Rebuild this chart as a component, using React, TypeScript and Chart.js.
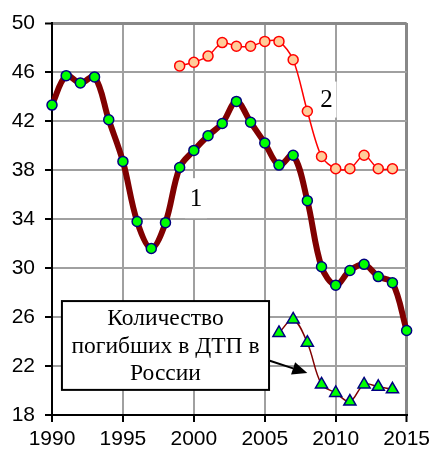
import { useEffect, useRef } from 'react';
import { Chart, registerables } from 'chart.js';

Chart.register(...registerables);

// ---- data ----
const years1 = [1990, 1991, 1992, 1993, 1994, 1995, 1996, 1997, 1998, 1999, 2000, 2001, 2002, 2003, 2004, 2005, 2006, 2007, 2008, 2009, 2010, 2011, 2012, 2013, 2014, 2015];
const series1 = [43.3, 45.7, 45.1, 45.6, 42.1, 38.7, 33.8, 31.6, 33.7, 38.2, 39.6, 40.8, 41.8, 43.6, 41.9, 40.2, 38.4, 39.2, 35.5, 30.1, 28.6, 29.8, 30.3, 29.3, 28.8, 24.9];

const years2 = [1999, 2000, 2001, 2002, 2003, 2004, 2005, 2006, 2007, 2008, 2009, 2010, 2011, 2012, 2013, 2014];
const series2 = [46.5, 46.8, 47.3, 48.4, 48.1, 48.1, 48.5, 48.5, 47.0, 42.8, 39.1, 38.1, 38.1, 39.2, 38.1, 38.1];

const years3 = [2006, 2007, 2008, 2009, 2010, 2011, 2012, 2013, 2014];
const series3 = [24.7, 25.8, 23.9, 20.5, 19.8, 19.1, 20.5, 20.3, 20.1];

const xMin = 1990;
const xMax = 2015;
const xStep = 5;
const yMin = 18;
const yMax = 50;
const yStep = 2;
const yLabelStep = 4;

const seriesLabel1 = '1';
const seriesLabel2 = '2';
const calloutLines = ['Количество', 'погибших в ДТП в', 'России'];

const toPoints = (xs: number[], ys: number[]) => xs.map((x, i) => ({ x, y: ys[i] }));

const annotationPlugin = {
  id: 'annotations',
  beforeDatasetsDraw(chart: any) {
    const ctx = chart.ctx;
    const xs = chart.scales.x;
    const ys = chart.scales.y;
    const drawLabel = (text: string, vx: number, vy: number, w: number, h: number) => {
      const px = xs.getPixelForValue(vx);
      const py = ys.getPixelForValue(vy);
      ctx.save();
      ctx.fillStyle = '#ffffff';
      ctx.fillRect(px - w / 2, py - h / 2, w, h);
      ctx.fillStyle = '#000000';
      ctx.font = '25px "Liberation Serif", "Times New Roman", serif';
      ctx.textAlign = 'center';
      ctx.textBaseline = 'middle';
      ctx.fillText(text, px, py + 1);
      ctx.restore();
    };
    drawLabel(seriesLabel1, 2000.15, 35.7, 22, 40);
    drawLabel(seriesLabel2, 2009.35, 43.75, 20, 36);
  },
  afterDatasetsDraw(chart: any) {
    const ctx = chart.ctx;
    const xs = chart.scales.x;
    const ys = chart.scales.y;
    const left = xs.getPixelForValue(1990.7);
    const right = xs.getPixelForValue(2005.3);
    const top = ys.getPixelForValue(27.3);
    const bottom = ys.getPixelForValue(20.05);
    ctx.save();
    ctx.fillStyle = '#ffffff';
    ctx.fillRect(left, top, right - left, bottom - top);
    ctx.strokeStyle = '#000000';
    ctx.lineWidth = 2;
    ctx.strokeRect(left, top, right - left, bottom - top);
    ctx.fillStyle = '#000000';
    ctx.font = '23.5px "Liberation Serif", "Times New Roman", serif';
    ctx.textAlign = 'center';
    ctx.textBaseline = 'alphabetic';
    const cx = (left + right) / 2;
    const baselines = [24, 52, 79];
    calloutLines.forEach((t, i) => ctx.fillText(t, cx, top + baselines[i]));

    // arrow
    const ax0 = right;
    const ay0 = ys.getPixelForValue(22.45);
    const ax1 = xs.getPixelForValue(2008.0);
    const ay1 = ys.getPixelForValue(21.42);
    const ang = Math.atan2(ay1 - ay0, ax1 - ax0);
    const headLen = 15;
    const headHalf = 6.5;
    const bx = ax1 - headLen * Math.cos(ang);
    const by = ay1 - headLen * Math.sin(ang);
    ctx.beginPath();
    ctx.moveTo(ax0, ay0);
    ctx.lineTo(bx, by);
    ctx.lineWidth = 2;
    ctx.stroke();
    ctx.beginPath();
    ctx.moveTo(ax1, ay1);
    ctx.lineTo(bx + headHalf * Math.sin(ang), by - headHalf * Math.cos(ang));
    ctx.lineTo(bx - headHalf * Math.sin(ang), by + headHalf * Math.cos(ang));
    ctx.closePath();
    ctx.fill();
    ctx.restore();
  },
};

export default function App() {
  const ref = useRef<HTMLCanvasElement | null>(null);
  useEffect(() => {
    if (!ref.current) return;
    const tickFont = { family: '"Liberation Sans", Arial, sans-serif', size: 21 };
    const chart = new Chart(ref.current, {
      type: 'line',
      data: {
        datasets: [
          {
            data: toPoints(years3, series3),
            borderColor: '#800000',
            borderWidth: 1.5,
            tension: 0.35,
            clip: false,
            pointStyle: 'triangle',
            pointRadius: 7,
            pointBackgroundColor: '#00ff00',
            pointBorderColor: '#000080',
            pointBorderWidth: 1.5,
          },
          {
            data: toPoints(years2, series2),
            borderColor: '#ff0000',
            borderWidth: 1.5,
            tension: 0.3,
            clip: false,
            pointRadius: 5,
            pointBackgroundColor: '#ffcc99',
            pointBorderColor: '#ff0000',
            pointBorderWidth: 1.5,
          },
          {
            data: toPoints(years1, series1),
            borderColor: '#800000',
            borderWidth: 6,
            tension: 0.35,
            clip: false,
            pointRadius: 5,
            pointBackgroundColor: '#00ff00',
            pointBorderColor: '#000080',
            pointBorderWidth: 1.5,
          },
        ],
      },
      options: {
        responsive: false,
        animation: false,
        events: [],
        layout: { padding: { top: 23, right: 26, left: 0, bottom: 0 } },
        plugins: { legend: { display: false }, tooltip: { enabled: false } },
        scales: {
          x: {
            type: 'linear',
            min: xMin,
            max: xMax,
            afterFit: (s: any) => { s.height = 35; },
            ticks: {
              stepSize: xStep,
              color: '#000',
              font: tickFont,
              padding: 5,
              maxRotation: 0,
              callback: (v: any) => String(v),
            },
            grid: {
              color: (c: any) => (c.tick && c.tick.value === xMax ? '#888888' : '#a0a0a0'),
              lineWidth: (c: any) => (c.tick && c.tick.value === xMax ? 3 : 2),
              tickLength: 7,
              tickColor: '#000',
              tickWidth: 2,
            },
            border: { color: '#000', width: 2 },
          },
          y: {
            min: yMin,
            max: yMax,
            afterFit: (s: any) => { s.width = 52; },
            ticks: {
              stepSize: yStep,
              color: '#000',
              font: tickFont,
              padding: 10,
              callback: (v: any) => ((v - yMin) % yLabelStep === 0 ? String(v) : ''),
            },
            grid: {
              color: (c: any) => (c.tick && c.tick.value === yMax ? '#888888' : '#a0a0a0'),
              lineWidth: (c: any) => (c.tick && c.tick.value === yMax ? 3 : 2),
              tickLength: 7,
              tickWidth: 2,
              tickColor: (c: any) => (c.tick && (c.tick.value - yMin) % yLabelStep === 0 ? '#000' : 'rgba(0,0,0,0)'),
            },
            border: { color: '#000', width: 2 },
          },
        },
      },
      plugins: [annotationPlugin],
    });
    return () => chart.destroy();
  }, []);
  return (
    <div style={{ position: 'absolute', left: 0, top: 0, width: 435, height: 450, background: '#fff' }}>
      <canvas ref={ref} width={435} height={450} />
    </div>
  );
}
